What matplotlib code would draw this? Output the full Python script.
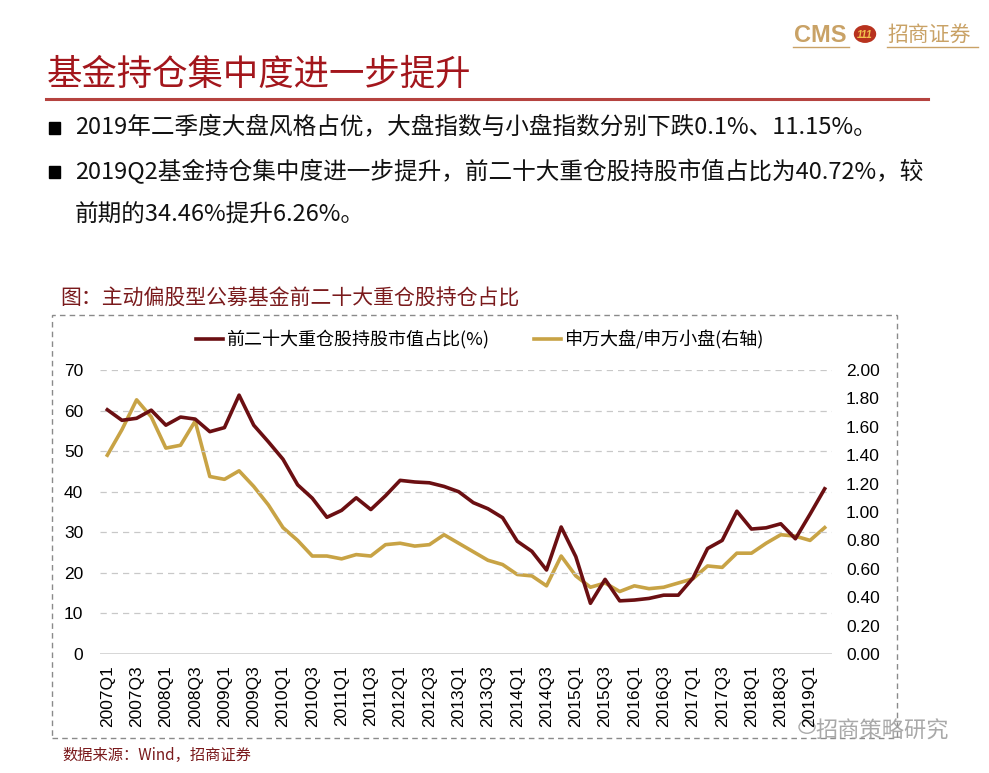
import matplotlib
matplotlib.use("Agg")
import matplotlib.pyplot as plt
from matplotlib.lines import Line2D
from matplotlib.patches import Rectangle, Circle

plt.rcParams['font.family'] = ['Noto Sans CJK SC', 'DejaVu Sans']

# Data
quarters = [f"{y}Q{q}" for y in range(2007, 2020) for q in range(1, 5)][:50]

top20_share = [60.2, 57.6, 58.1, 60.1, 56.4, 58.4, 57.9, 54.8, 55.8, 63.8,
               56.4, 52.3, 48.0, 41.7, 38.4, 33.7, 35.4, 38.5, 35.6, 39.0,
               42.8, 42.4, 42.2, 41.3, 40.0, 37.3, 35.8, 33.6, 27.8, 25.3,
               20.7, 31.3, 24.0, 12.5, 18.4, 13.1, 13.3, 13.7, 14.5, 14.5,
               18.7, 26.0, 28.0, 35.2, 30.8, 31.1, 32.1, 28.4, 34.46, 40.72]

big_small_ratio = [1.40, 1.58, 1.79, 1.67, 1.45, 1.47, 1.64, 1.25, 1.23, 1.29,
                   1.18, 1.05, 0.89, 0.80, 0.69, 0.69, 0.67, 0.70, 0.69, 0.77,
                   0.78, 0.76, 0.77, 0.84, 0.78, 0.72, 0.66, 0.63, 0.56, 0.55,
                   0.48, 0.69, 0.55, 0.47, 0.50, 0.44, 0.48, 0.46, 0.47, 0.50,
                   0.53, 0.62, 0.61, 0.71, 0.71, 0.78, 0.84, 0.83, 0.80, 0.89]

left_ticks = [0, 10, 20, 30, 40, 50, 60, 70]
right_ticks = [0.0, 0.2, 0.4, 0.6, 0.8, 1.0, 1.2, 1.4, 1.6, 1.8, 2.0]

DARK = "#6b0f12"
GOLD = "#c8a345"
RED = "#a3161c"
TAN = "#c9a266"

W, H = 989, 773


def fx(px):
    return px / W


def fy(py):
    return 1 - py / H


fig = plt.figure(figsize=(W / 100, H / 100), dpi=100)

# Header logo
fig.text(fx(794), fy(35), "CMS", color=TAN, fontsize=17, fontweight="bold",
         family=["Liberation Sans"], va="center", ha="left")
fig.add_artist(Circle((fx(865), fy(34)), 10.5 / W, color="#b8321e",
                      transform=fig.transFigure))
fig.text(fx(865), fy(35), "111", color="#f2c14e", fontsize=7.5, fontweight="bold",
         family=["Liberation Sans"], va="center", ha="center", style="italic")
fig.text(fx(887), fy(35), "招商证券", color=TAN, fontsize=15, va="center", ha="left")
fig.add_artist(Line2D([fx(793), fx(849)], [fy(47), fy(47)], color=TAN, lw=1,
                      transform=fig.transFigure))
fig.add_artist(Line2D([fx(887), fx(978)], [fy(47), fy(47)], color=TAN, lw=1,
                      transform=fig.transFigure))

# Title and underline
fig.text(fx(47), fy(75), "基金持仓集中度进一步提升", color=RED, fontsize=25.5,
         va="center", ha="left")
fig.add_artist(Line2D([fx(46), fx(928)], [fy(99), fy(99)], color="#b5433f", lw=2.2,
                      transform=fig.transFigure))

# Bullet points
for yb in (128, 172):
    fig.add_artist(Rectangle((fx(49), fy(yb + 6)), 11 / W, 12 / H, color="black",
                             transform=fig.transFigure))
fig.text(fx(75), fy(128), "2019年二季度大盘风格占优，大盘指数与小盘指数分别下跌0.1%、11.15%。",
         fontsize=17, va="center", ha="left", color="#111111")
fig.text(fx(75), fy(172), "2019Q2基金持仓集中度进一步提升，前二十大重仓股持股市值占比为40.72%，较",
         fontsize=17, va="center", ha="left", color="#111111")
fig.text(fx(75), fy(215), "前期的34.46%提升6.26%。",
         fontsize=17, va="center", ha="left", color="#111111")

# Chart caption and dashed frame
fig.text(fx(60), fy(299), "图：主动偏股型公募基金前二十大重仓股持仓占比", color="#7a1a1c",
         fontsize=15, va="center", ha="left")
fig.add_artist(Rectangle((fx(52), fy(738)), (897 - 52) / W, (738 - 315) / H,
                         fill=False, edgecolor="#8a8a8a", lw=1, linestyle=(0, (4, 3)),
                         transform=fig.transFigure))

# Axes
ax = fig.add_axes([fx(100), fy(654), (832 - 100) / W, (654 - 370) / H])
ax2 = ax.twinx()
x = list(range(len(quarters)))
l1, = ax.plot(x, top20_share, color=DARK, lw=2.6, label="前二十大重仓股持股市值占比(%)")
l2, = ax2.plot(x, big_small_ratio, color=GOLD, lw=2.6, label="申万大盘/申万小盘(右轴)")
ax.set_zorder(ax2.get_zorder() + 1)
ax.patch.set_visible(False)

ax.set_xlim(-0.5, len(quarters) - 0.5)
ax.set_ylim(0, 70)
ax2.set_ylim(0, 2)
ax.set_yticks(left_ticks)
ax.set_yticklabels([str(v) for v in left_ticks], family=["Liberation Sans"], fontsize=12.5)
ax2.set_yticks(right_ticks)
ax2.set_yticklabels([f"{v:.2f}" for v in right_ticks], family=["Liberation Sans"], fontsize=12.5)
ax.set_xticks(x[::2])
ax.set_xticklabels(quarters[::2], rotation=90, family=["Liberation Sans"], fontsize=12.5)

for a in (ax, ax2):
    for s in a.spines.values():
        s.set_visible(False)
    a.tick_params(length=0)
ax.tick_params(axis="y", pad=12)
ax2.tick_params(axis="y", pad=10)
ax.tick_params(axis="x", pad=8)

for v in left_ticks[1:]:
    ax.axhline(v, color="#c8c8c8", lw=0.9, linestyle=(0, (5, 4)), zorder=0)
ax.axhline(0, color="#cfcfcf", lw=1.2, zorder=0)

fig.legend(handles=[l1, l2], loc="center", bbox_to_anchor=(fx(480), fy(340)),
           ncol=2, frameon=False, fontsize=13, handlelength=1.5, handletextpad=0.2,
           columnspacing=2.5)

# Footer
fig.text(fx(62), fy(755), "数据来源：Wind，招商证券", color="#7a1a1c", fontsize=11,
         va="center", ha="left")
fig.text(fx(815), fy(731), "招商策略研究", color="#9a9a9a", fontsize=16,
         va="center", ha="left", alpha=0.85)
fig.add_artist(Circle((fx(807), fy(727)), 8 / W, fill=False, edgecolor="#aaaaaa", lw=1,
                      transform=fig.transFigure))

fig.savefig("out.png", dpi=100)
